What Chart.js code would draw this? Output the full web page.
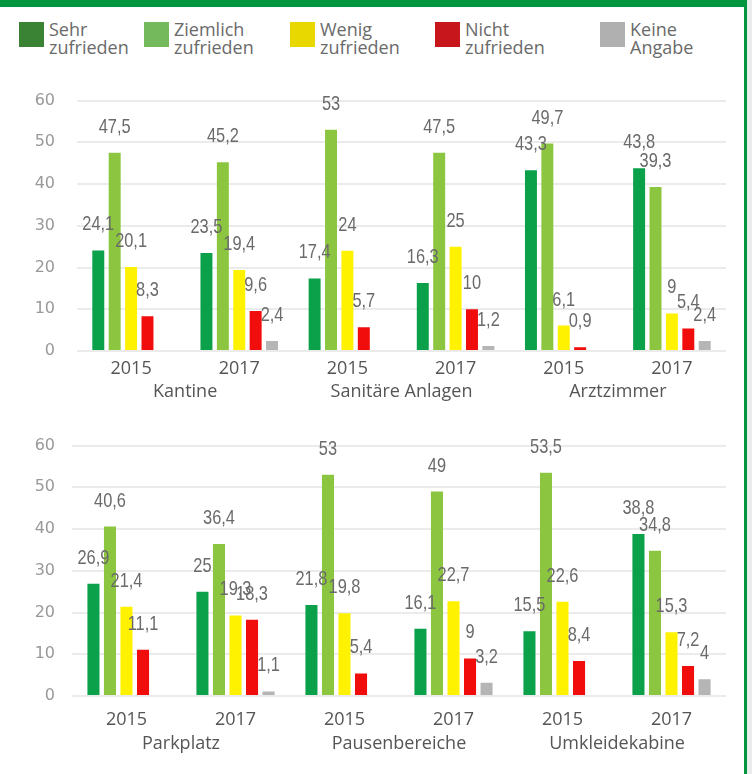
<!DOCTYPE html>
<html>
<head>
<meta charset="utf-8">
<script src="https://cdn.jsdelivr.net/npm/chart.js@4/dist/chart.umd.min.js"></script>
<style>
  body { margin: 0; width: 752px; height: 774px; overflow: hidden; position: relative; background: #fff; font-family: 'Open Sans', sans-serif; }
  #topbar { position: absolute; left: 0; top: 0; width: 747px; height: 7px; background: #00963f; }
  #rightbar { position: absolute; left: 744px; top: 0; width: 3px; height: 774px; background: #00963f; }
  #rightgap { position: absolute; left: 747px; top: 0; width: 5px; height: 774px; background: #ececec; }
  .sw { position: absolute; top: 22px; width: 25px; height: 25px; }
  .lt { position: absolute; top: 20px; font-size: 18px; line-height: 18px; color: #6a6a6a; white-space: nowrap; }
  canvas { position: absolute; left: 0; }
</style>
</head>
<body>
<div id="topbar"></div>
<div id="rightbar"></div>
<div id="rightgap"></div>
<div id="legend"></div>
<canvas id="chartTop" width="752" height="336" style="top:69px"></canvas>
<canvas id="chartBottom" width="752" height="346" style="top:419px"></canvas>
<script>
// data
var years = ['2015', '2017', '2015', '2017', '2015', '2017'];
var topPlaces = ['Kantine', 'Sanitäre Anlagen', 'Arztzimmer'];
var bottomPlaces = ['Parkplatz', 'Pausenbereiche', 'Umkleidekabine'];
var seriesNames = [['Sehr', 'zufrieden'], ['Ziemlich', 'zufrieden'], ['Wenig', 'zufrieden'], ['Nicht', 'zufrieden'], ['Keine', 'Angabe']];

var topSehr     = [24.1, 23.5, 17.4, 16.3, 43.3, 43.8];
var topZiemlich = [47.5, 45.2, 53, 47.5, 49.7, 39.3];
var topWenig    = [20.1, 19.4, 24, 25, 6.1, 9];
var topNicht    = [8.3, 9.6, 5.7, 10, 0.9, 5.4];
var topKeine    = [null, 2.4, null, 1.2, null, 2.4];

var botSehr     = [26.9, 25, 21.8, 16.1, 15.5, 38.8];
var botZiemlich = [40.6, 36.4, 53, 49, 53.5, 34.8];
var botWenig    = [21.4, 19.3, 19.8, 22.7, 22.6, 15.3];
var botNicht    = [11.1, 18.3, 5.4, 9, 8.4, 7.2];
var botKeine    = [null, 1.1, null, 3.2, null, 4];

var yMin = 0, yMax = 60, yStep = 10;

// styles
var BAR_COLORS = ['#0ba14b', '#8cc640', '#fff200', '#f20d0d', '#b5b5b5'];
var LEGEND_COLORS = ['#3a8335', '#74b95b', '#e8d800', '#c8161d', '#b0b0b0'];
var LEGEND_X = [19, 144, 290, 435, 600];
var GRAY = '#6a6a6a';

// legend
var legend = document.getElementById('legend');
seriesNames.forEach(function(name, i) {
  var sw = document.createElement('div');
  sw.className = 'sw';
  sw.style.left = LEGEND_X[i] + 'px';
  sw.style.background = LEGEND_COLORS[i];
  legend.appendChild(sw);
  var t = document.createElement('div');
  t.className = 'lt';
  t.style.left = (LEGEND_X[i] + 30) + 'px';
  t.innerHTML = name.join('<br>');
  legend.appendChild(t);
});

// value labels, squeezed horizontally to look like the narrow original font
var valueLabels = {
  id: 'valueLabels',
  afterDatasetsDraw: function(chart) {
    var ctx = chart.ctx;
    var sx = 0.78;
    ctx.save();
    ctx.font = '21px "Liberation Sans", sans-serif';
    ctx.fillStyle = GRAY;
    ctx.textAlign = 'center';
    ctx.textBaseline = 'alphabetic';
    ctx.scale(sx, 1);
    chart.data.datasets.forEach(function(ds, di) {
      chart.getDatasetMeta(di).data.forEach(function(bar, i) {
        var v = ds.data[i];
        if (v == null) return;
        ctx.fillText(String(v).replace('.', ','), bar.x / sx, bar.y - 20);
      });
    });
    ctx.restore();
  }
};

function makeChart(id, places, series, geo) {
  return new Chart(document.getElementById(id), {
    type: 'bar',
    data: {
      labels: years,
      datasets: series.map(function(vals, i) {
        return {
          label: seriesNames[i].join(' '),
          data: vals,
          backgroundColor: BAR_COLORS[i],
          categoryPercentage: 0.758,
          barPercentage: 0.73
        };
      })
    },
    options: {
      responsive: false,
      animation: false,
      layout: { padding: { left: 0, right: 26, top: 10, bottom: geo.pb } },
      plugins: { legend: { display: false }, tooltip: { enabled: false } },
      scales: {
        x: {
          grid: { display: false, drawTicks: false },
          border: { display: false },
          ticks: { color: '#555', padding: geo.p1, font: { family: 'Open Sans', size: 18 } },
          afterFit: function(s) { s.height = geo.h1; }
        },
        x2: {
          type: 'category',
          labels: places,
          position: 'bottom',
          offset: true,
          grid: { display: false, drawTicks: false },
          border: { display: false },
          ticks: { color: '#555', padding: geo.p2, font: { family: 'Open Sans', size: 18 } },
          afterFit: function(s) { s.height = geo.h2; }
        },
        y: {
          min: yMin,
          max: yMax,
          ticks: {
            stepSize: yStep,
            color: '#999',
            padding: geo.yPad,
            font: { family: 'DejaVu Sans', size: 16 }
          },
          grid: { color: '#ebebeb', lineWidth: 2, drawTicks: false },
          border: { display: false },
          afterFit: function(s) { s.width = geo.yWidth; }
        }
      }
    },
    plugins: [valueLabels]
  });
}

makeChart('chartTop', topPlaces, [topSehr, topZiemlich, topWenig, topNicht, topKeine],
  { pb: 2, h1: 28, p1: 7, h2: 24, p2: 2, yWidth: 77, yPad: 22 });
makeChart('chartBottom', bottomPlaces, [botSehr, botZiemlich, botWenig, botNicht, botKeine],
  { pb: 9, h1: 32, p1: 13, h2: 28, p2: 5, yWidth: 72, yPad: 17 });
</script>
</body>
</html>
